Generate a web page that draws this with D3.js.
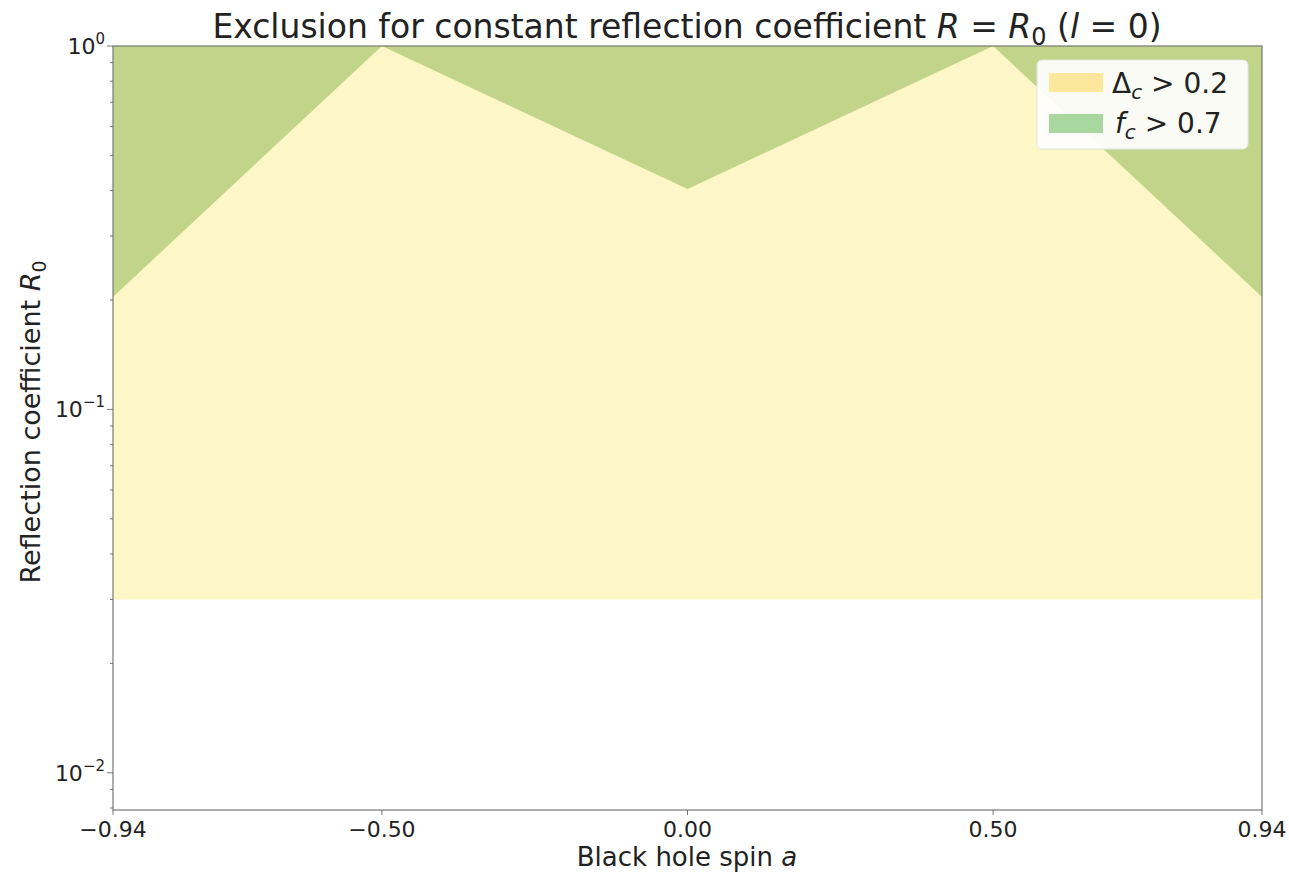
<!DOCTYPE html>
<html><head><meta charset="utf-8">
<script src="https://cdn.jsdelivr.net/npm/d3@7"></script>
<style>body{margin:0;background:#fff;} text{font-family:"DejaVu Sans",sans-serif;fill:#222;}</style>
</head><body><svg id="c" width="1289" height="875"></svg>
<script>
const spin = [-0.94, -0.5, 0.0, 0.5, 0.94];
const fcBoundary = [0.204, 1.0, 0.404, 1.0, 0.204];
const deltaLower = [0.03, 0.03, 0.03, 0.03, 0.03];
const xTicks = [-0.94, -0.5, 0.0, 0.5, 0.94];
const xTickLabels = ["\u22120.94", "\u22120.50", "0.00", "0.50", "0.94"];
const yTicks = [1, 0.1, 0.01];
const yTickExp = ["0", "\u22121", "\u22122"];
const yDomain = [0.0079, 1];

const svg = d3.select("#c");
const L=113, R=1262, T=46, B=810;
const x = d3.scaleLinear().domain([-0.94,0.94]).range([L,R]);
const y = d3.scaleLog().domain(yDomain).range([B,T]);
const data = spin.map((s,i)=>({s, fc: fcBoundary[i], lo: deltaLower[i]}));

svg.append("path").datum(data)
  .attr("d", d3.area().x(d=>x(d.s)).y0(d=>y(d.lo)).y1(()=>y(1)))
  .attr("fill","#fdf6c6");
svg.append("path").datum(data)
  .attr("d", d3.area().x(d=>x(d.s)).y0(d=>y(d.fc)).y1(()=>y(1)))
  .attr("fill","#c2d48a");

svg.append("rect").attr("x",L).attr("y",T).attr("width",R-L).attr("height",B-T)
  .attr("fill","none").attr("stroke","#777").attr("stroke-width",1.2);

const xg = svg.append("g");
xTicks.forEach((t,i)=>{
  xg.append("line").attr("x1",x(t)).attr("x2",x(t)).attr("y1",B).attr("y2",B+5).attr("stroke","#777");
  xg.append("text").attr("x",x(t)).attr("y",B+27).attr("text-anchor","middle").attr("font-size",22).text(xTickLabels[i]);
});
yTicks.forEach((t,i)=>{
  svg.append("line").attr("x1",L-6).attr("x2",L).attr("y1",y(t)).attr("y2",y(t)).attr("stroke","#777");
  const tx = svg.append("text").attr("x",L-8).attr("y",y(t)+8).attr("text-anchor","end").attr("font-size",22);
  tx.append("tspan").text("10");
  tx.append("tspan").attr("dy",-10).attr("font-size",15).text(yTickExp[i]);
});
[0.001,0.01,0.1].forEach(dec=>{
  for(let k=2;k<=9;k++){
    const v=dec*k;
    if(v<yDomain[0]||v>yDomain[1]) continue;
    svg.append("line").attr("x1",L-3).attr("x2",L).attr("y1",y(v)).attr("y2",y(v)).attr("stroke","#777");
  }
});

const title = svg.append("text").attr("x",687).attr("y",38).attr("text-anchor","middle").attr("font-size",33);
title.append("tspan").text("Exclusion for constant reflection coefficient ");
title.append("tspan").attr("font-style","italic").text("R");
title.append("tspan").text(" = ");
title.append("tspan").attr("font-style","italic").text("R");
title.append("tspan").attr("dy",7).attr("font-size",24).text("0");
title.append("tspan").attr("dy",-7).text(" (");
title.append("tspan").attr("font-style","italic").text("l");
title.append("tspan").text(" = 0)");

svg.append("text").attr("x",687).attr("y",866).attr("text-anchor","middle").attr("font-size",26)
  .html('Black hole spin <tspan font-style="italic">a</tspan>');
const yl = svg.append("text").attr("transform","translate(40,422) rotate(-90)").attr("text-anchor","middle").attr("font-size",27);
yl.append("tspan").text("Reflection coefficient ");
yl.append("tspan").attr("font-style","italic").text("R");
yl.append("tspan").attr("dy",6).attr("font-size",19).text("0");

const lg = svg.append("g");
lg.append("rect").attr("x",1037).attr("y",60).attr("width",211).attr("height",89).attr("rx",5)
  .attr("fill","#fff").attr("fill-opacity",0.9).attr("stroke","#e4e4e4");
lg.append("rect").attr("x",1049).attr("y",73).attr("width",54).attr("height",19).attr("fill","#fde79c");
lg.append("rect").attr("x",1049).attr("y",114).attr("width",54).attr("height",19).attr("fill","#a9d7a0");
const l1 = lg.append("text").attr("x",1112).attr("y",93).attr("font-size",28);
l1.append("tspan").text("\u0394");
l1.append("tspan").attr("dy",6).attr("font-size",20).attr("font-style","italic").text("c");
l1.append("tspan").attr("dy",-6).text(" > 0.2");
const l2 = lg.append("text").attr("x",1115).attr("y",133).attr("font-size",28);
l2.append("tspan").attr("font-style","italic").text("f");
l2.append("tspan").attr("dy",6).attr("font-size",20).attr("font-style","italic").text("c");
l2.append("tspan").attr("dy",-6).text(" > 0.7");
</script></body></html>
